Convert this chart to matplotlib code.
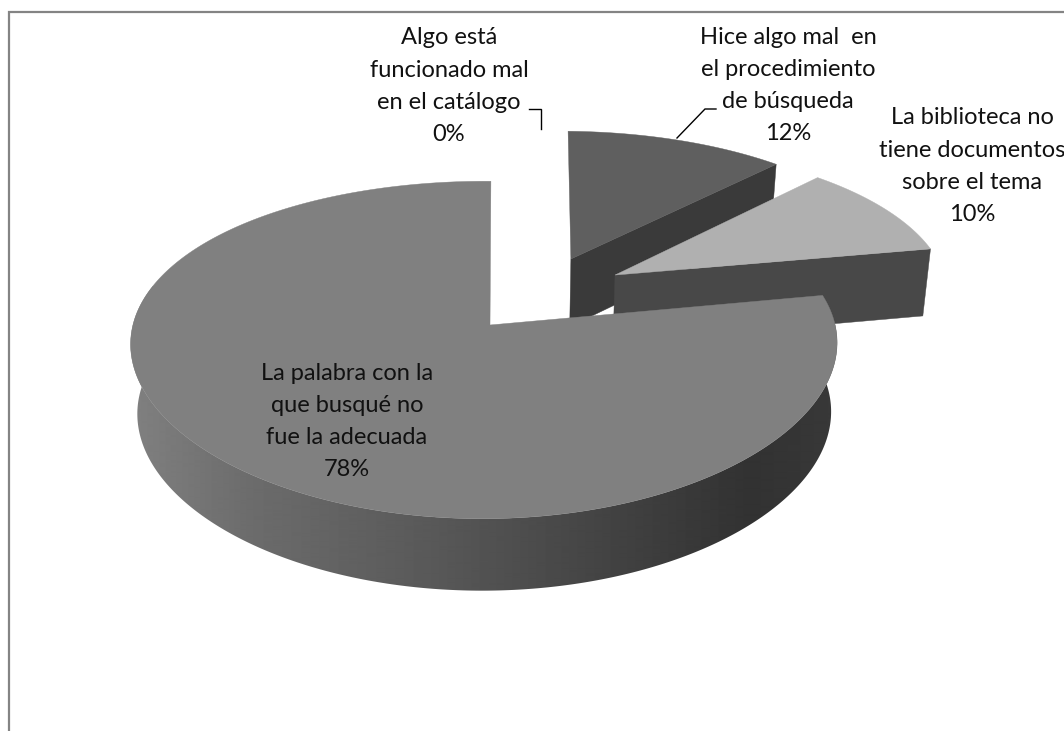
import numpy as np
import matplotlib
matplotlib.use("Agg")
import matplotlib.pyplot as plt
from matplotlib.patches import Polygon

# ---- data ----
categories = ["Algo está\nfuncionado mal\nen el catálogo",
              "Hice algo mal  en\nel procedimiento\nde búsqueda",
              "La biblioteca no\ntiene documentos\nsobre el tema",
              "La palabra con la\nque busqué no\nfue la adecuada"]
percentages = [0, 12, 10, 78]

# ---- style ----
top_colors = [None, "#5f5f5f", "#b0b0b0", "#808080"]
face_colors = [None, "#3a3a3a", "#484848", "#808080"]
explode = [(0, 0), (0.241, 0.427), (0.37, 0.319), (0, 0)]
shear = [0, 4, 0, 0]
label_xy = [(449, 38), (788, 37), (972, 118), (347, 373)]
leaders = [([529, 541, 541], [109, 109, 129]), ([716, 705, 677], [109, 109, 138])]
FONT = "Lato"
FS = 17.0
LINE = 32.3

OX, OY = 490, 325
A, B, C = 351, 165, 1
KX, KY, M = 0.11, 0.148, 0.017
GRAD_X = [133, 250, 420, 600, 750, 830]
GRAD_G = [128, 108, 90, 68, 50, 56]


def project(u, v):
    wx = 1 + KX * v + M * u
    wy = 1 + KY * v + M * u
    return OX + (A * u + C * v) / wx, OY - B * v / wy, wy


def drop(x, wy):
    d = 72 - 20 * (wy - 0.85)
    return x + (505 - x) * 0.018, d


fig = plt.figure(figsize=(10.64, 7.31), dpi=100, facecolor="white")
ax = fig.add_axes([0, 0, 1, 1])
ax.axis("off")

# frame
ax.plot([8.5, 8.5, 1064], [731, 11.5, 11.5], color="#848484", lw=1.6,
        solid_joinstyle="miter", zorder=1)

fracs = np.cumsum([0] + percentages) / sum(percentages) * 2 * np.pi
z = 2
for i, p in enumerate(percentages):
    if p == 0:
        continue
    t0, t1 = fracs[i], fracs[i + 1]
    off = explode[i]
    th = np.linspace(t0, t1, 400)
    su, cv = np.sin(th), np.cos(th)
    x, y, w = project(off[0] + su, off[1] + cv)
    x = x + shear[i] * cv * (1 - su)
    dx_, d = drop(x, w)
    yb = y + d
    ax_, ay_, aw = project(np.array([off[0]]), np.array([off[1]]))
    bx_, bd = drop(ax_, aw)
    if p < 50:
        # visible radial face (the one turned toward the viewer)
        poly = [(ax_[0], ay_[0]), (x[-1], y[-1]), (dx_[-1], yb[-1]), (bx_[0], ay_[0] + bd[0])]
        ax.add_patch(Polygon(poly, closed=True, fc=face_colors[i], ec=face_colors[i],
                             lw=0.3, zorder=z))
    else:
        # outer wall with horizontal gradient, only its front part
        front = cv < 0.25
        poly = np.r_[np.c_[x[front], y[front]], np.c_[dx_[front], yb[front]][::-1]]
        patch = Polygon(poly, closed=True, fc="none", ec="none", transform=ax.transData)
        ax.add_patch(patch)
        xs = np.arange(100, 870)
        grad = np.interp(xs, GRAD_X, GRAD_G)[None, :]
        im = ax.imshow(grad, cmap="gray", vmin=0, vmax=255, aspect="auto",
                       extent=(100, 870, 620, 280), zorder=z, interpolation="bilinear")
        im.set_clip_path(patch)
    # top
    ax.add_patch(Polygon(np.r_[[[ax_[0], ay_[0]]], np.c_[x, y]], closed=True,
                         fc=top_colors[i], ec=top_colors[i], lw=0.3, zorder=z + 0.2))
    z += 1

# leader lines
for lx, ly in leaders:
    ax.plot(lx, ly, color="black", lw=1.0, zorder=10, solid_joinstyle="miter")

# labels
for cat, pct, (lx, ly) in zip(categories, percentages, label_xy):
    lines = cat.split("\n") + [f"{pct}%"]
    for n, line in enumerate(lines):
        ax.text(lx, ly + n * LINE, line, ha="center", va="center", family=FONT,
                fontsize=FS, color="#111111", zorder=11)

ax.set_xlim(0, 1064)
ax.set_ylim(731, 0)
fig.savefig("out.png", dpi=100, facecolor="white")
